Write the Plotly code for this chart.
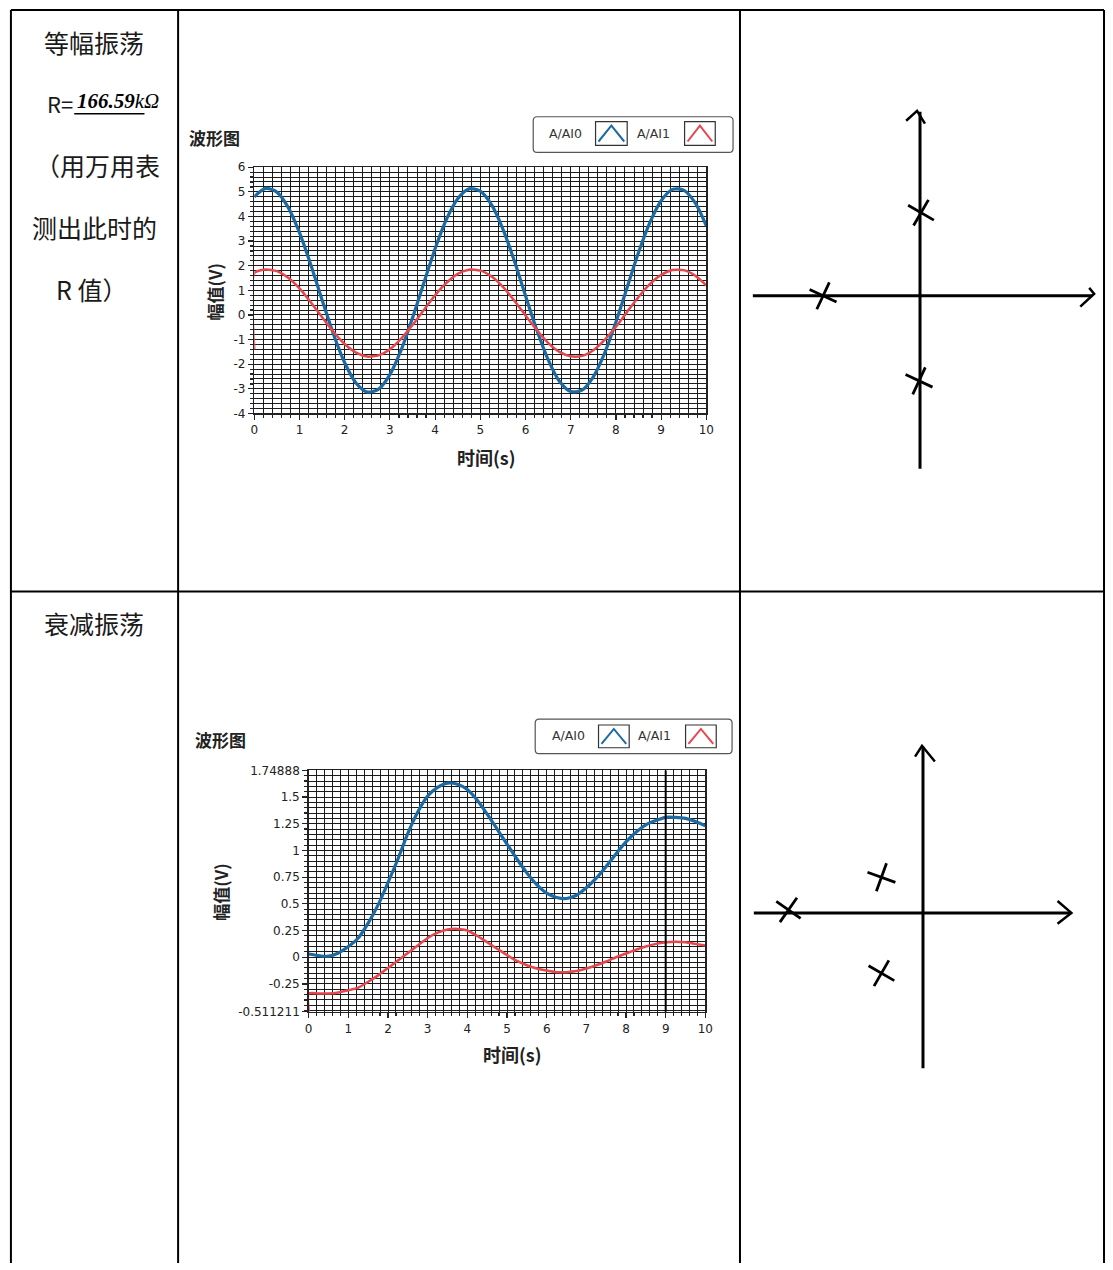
import plotly.graph_objects as go

# ---------------- data ----------------
time_s = [0, 0.25, 0.5, 0.75, 1, 1.25, 1.5, 1.75, 2, 2.25, 2.5, 2.75, 3, 3.25, 3.5, 3.75,
          4, 4.25, 4.5, 4.75, 5, 5.25, 5.5, 5.75, 6, 6.25, 6.5, 6.75, 7, 7.25, 7.5, 7.75,
          8, 8.25, 8.5, 8.75, 9, 9.25, 9.5, 9.75, 10]

# 等幅振荡 (sustained oscillation)
ai0_sustained = [4.80, 5.14, 4.99, 4.37, 3.34, 2.04, 0.61, -0.77, -1.94, -2.76, -3.13, -3.01,
                 -2.42, -1.42, -0.12, 1.30, 2.69, 3.88, 4.72, 5.12, 5.03, 4.47, 3.49, 2.21,
                 0.78, -0.61, -1.81, -2.69, -3.11, -3.05, -2.51, -1.55, -0.29, 1.13, 2.54,
                 3.75, 4.64, 5.10, 5.07, 4.56, 3.62]
ai1_sustained_time = [0] + time_s
ai1_sustained = [-1.40, 1.70, 1.85, 1.78, 1.51, 1.08, 0.52, -0.09, -0.68, -1.18, -1.53, -1.69,
                 -1.64, -1.39, -0.96, -0.41, 0.20, 0.80, 1.30, 1.67, 1.84, 1.80, 1.56, 1.14,
                 0.59, -0.02, -0.61, -1.13, -1.50, -1.68, -1.66, -1.43, -1.01, -0.48, 0.13,
                 0.73, 1.25, 1.63, 1.83, 1.82, 1.60, 1.20]

# 衰减振荡 (damped oscillation)
ai0_damped = [0.03, 0.015, 0.01, 0.04, 0.10, 0.18, 0.32, 0.49, 0.70, 0.92, 1.16, 1.36, 1.51,
              1.59, 1.63, 1.62, 1.57, 1.47, 1.34, 1.20, 1.06, 0.92, 0.79, 0.68, 0.60, 0.56,
              0.55, 0.58, 0.65, 0.74, 0.85, 0.97, 1.08, 1.17, 1.24, 1.28, 1.31, 1.31, 1.30,
              1.27, 1.23]
ai1_damped_time = [0] + time_s
ai1_damped = [-0.511, -0.34, -0.34, -0.34, -0.33, -0.31, -0.285, -0.23, -0.17, -0.10, -0.03,
              0.04, 0.11, 0.18, 0.23, 0.26, 0.265, 0.25, 0.20, 0.14, 0.08, 0.02, -0.035,
              -0.075, -0.105, -0.125, -0.14, -0.14, -0.13, -0.105, -0.075, -0.04, 0.0, 0.035,
              0.07, 0.10, 0.125, 0.14, 0.145, 0.14, 0.125, 0.11]
cursor_time = 9

x_tickvals = [0, 1, 2, 3, 4, 5, 6, 7, 8, 9, 10]
x_ticktext = ["0", "1", "2", "3", "4", "5", "6", "7", "8", "9", "10"]
y1_range = [-4, 6]
y1_tickvals = [-4, -3, -2, -1, 0, 1, 2, 3, 4, 5, 6]
y1_ticktext = ["-4", "-3", "-2", "-1", "0", "1", "2", "3", "4", "5", "6"]
y2_range = [-0.511211, 1.74888]
y2_tickvals = [-0.511211, -0.25, 0, 0.25, 0.5, 0.75, 1, 1.25, 1.5, 1.74888]
y2_ticktext = ["-0.511211", "-0.25", "0", "0.25", "0.5", "0.75", "1", "1.25", "1.5", "1.74888"]
x_range = [0, 10]

# hand-drawn pole plots (poles, in drawing units)
pz1_re = [-0.98, 0.01, -0.01]
pz1_im = [0.0, 0.84, -0.86]
pz2_re = [-1.36, -0.42, -0.42]
pz2_im = [0.03, 0.36, -0.61]
pz1_re_axis = [-1.69, 1.74]
pz1_im_axis = [-1.75, 1.86]
pz1_re_head_x = [1.71, 1.76, 1.62]
pz1_re_head_y = [0.08, 0.02, -0.11]
pz1_im_head_x = [-0.14, -0.03, 0.05]
pz1_im_head_y = [1.77, 1.87, 1.74]
pz2_re_axis = [-1.71, 1.49]
pz2_im_axis = [-1.57, 1.68]
pz2_re_head_x = [1.36, 1.50, 1.36]
pz2_re_head_y = [0.12, 0.0, -0.11]
pz2_im_head_x = [-0.08, -0.01, 0.12]
pz2_im_head_y = [1.58, 1.69, 1.53]

series_names = ["A/AI0", "A/AI1"]
BLUE = "#1d6aa3"
RED = "#e5474d"

W, H = 1113, 1270


def px(x):
    return x / W


def py(y):
    return 1 - y / H


fig = go.Figure()

fig.add_trace(go.Scatter(x=time_s, y=ai0_sustained, mode="lines", name=series_names[0],
                         line=dict(color=BLUE, width=3.2, shape="spline", smoothing=0.8),
                         xaxis="x", yaxis="y"))
fig.add_trace(go.Scatter(x=ai1_sustained_time, y=ai1_sustained, mode="lines", name=series_names[1],
                         line=dict(color=RED, width=2.5, shape="spline", smoothing=0.6),
                         xaxis="x", yaxis="y"))
fig.add_trace(go.Scatter(x=time_s, y=ai0_damped, mode="lines", name=series_names[0],
                         line=dict(color=BLUE, width=3.2, shape="spline", smoothing=0.8),
                         xaxis="x2", yaxis="y2"))
fig.add_trace(go.Scatter(x=ai1_damped_time, y=ai1_damped, mode="lines", name=series_names[1],
                         line=dict(color=RED, width=2.5, shape="spline", smoothing=0.6),
                         xaxis="x2", yaxis="y2"))

sk_line = dict(color="black", width=3)
for xa, ya, rea, ima, rhx, rhy, ihx, ihy, pre, pim, ang in [
    ("x3", "y3", pz1_re_axis, pz1_im_axis, pz1_re_head_x, pz1_re_head_y, pz1_im_head_x, pz1_im_head_y,
     pz1_re, pz1_im, [-20, -15, -20]),
    ("x4", "y4", pz2_re_axis, pz2_im_axis, pz2_re_head_x, pz2_re_head_y, pz2_im_head_x, pz2_im_head_y,
     pz2_re, pz2_im, [-10, -25, -15]),
]:
    fig.add_trace(go.Scatter(x=rea, y=[0, 0], mode="lines", line=sk_line, xaxis=xa, yaxis=ya))
    fig.add_trace(go.Scatter(x=[0, 0], y=ima, mode="lines", line=sk_line, xaxis=xa, yaxis=ya))
    fig.add_trace(go.Scatter(x=rhx, y=rhy, mode="lines", line=dict(color="black", width=2.5),
                             xaxis=xa, yaxis=ya))
    fig.add_trace(go.Scatter(x=ihx, y=ihy, mode="lines", line=dict(color="black", width=2.5),
                             xaxis=xa, yaxis=ya))
    fig.add_trace(go.Scatter(x=pre, y=pim, mode="markers", xaxis=xa, yaxis=ya,
                             marker=dict(symbol="x-thin", size=21, angle=ang,
                                         line=dict(color="black", width=2.8))))

tickfont = dict(family="DejaVu Sans", size=12, color="#222")
GRID = "#1a1a1a"


def wave_axis(domain, anchor, rng, tv, tt, minor_dtick):
    return dict(domain=domain, range=rng, anchor=anchor, tickmode="array", tickvals=tv, ticktext=tt,
                ticks="outside", ticklen=5, tickcolor="#222", tickwidth=1.2,
                showline=True, linecolor="#222", linewidth=1.5, mirror=True,
                showgrid=True, gridcolor=GRID, gridwidth=1, zeroline=False,
                tickfont=tickfont, fixedrange=True,
                minor=dict(tickmode="linear", tick0=0, dtick=minor_dtick, ticks="outside", ticklen=3,
                           tickcolor="#222", showgrid=True, gridcolor=GRID, gridwidth=1))


fig.update_layout(
    width=W, height=H, autosize=False,
    margin=dict(l=0, r=0, t=0, b=0),
    paper_bgcolor="white", plot_bgcolor="white",
    showlegend=False,
    xaxis=wave_axis([px(253), px(710)], "y", x_range, x_tickvals, x_ticktext, 0.2),
    yaxis=wave_axis([py(411), py(162)], "x", y1_range, y1_tickvals, y1_ticktext, 0.2),
    xaxis2=wave_axis([px(308), px(709)], "y2", x_range, x_tickvals, x_ticktext, 0.2),
    yaxis2=wave_axis([py(1016), py(772)], "x2", y2_range, y2_tickvals, y2_ticktext, 0.05),
    xaxis3=dict(domain=[px(745), px(1111)], range=[-1.81, 1.85], visible=False, anchor="y3",
                fixedrange=True),
    yaxis3=dict(domain=[py(590), py(4)], range=[-2.98, 2.88], visible=False, anchor="x3",
                fixedrange=True),
    xaxis4=dict(domain=[px(745), px(1111)], range=[-1.84, 1.82], visible=False, anchor="y4",
                fixedrange=True),
    yaxis4=dict(domain=[py(1270), py(592)], range=[-3.54, 3.24], visible=False, anchor="x4",
                fixedrange=True),
)

shapes = []
TL = dict(color="black", width=2)
shapes.append(dict(type="line", xref="paper", yref="paper", x0=px(7), x1=px(1112), y0=py(3), y1=py(3), line=TL))
shapes.append(dict(type="line", xref="paper", yref="paper", x0=px(7), x1=px(7), y0=py(3), y1=0, line=TL))
shapes.append(dict(type="line", xref="paper", yref="paper", x0=px(1112), x1=px(1112), y0=py(3), y1=0, line=TL))
shapes.append(dict(type="line", xref="paper", yref="paper", x0=px(176), x1=px(176), y0=py(3), y1=0, line=TL))
shapes.append(dict(type="line", xref="paper", yref="paper", x0=px(744), x1=px(744), y0=py(3), y1=0, line=TL))
shapes.append(dict(type="line", xref="paper", yref="paper", x0=px(7), x1=px(1112), y0=py(591), y1=py(591), line=TL))

shapes.append(dict(type="line", xref="paper", yref="paper", x0=px(71), x1=px(142), y0=py(108), y1=py(108),
                   line=dict(color="black", width=1.5)))

shapes.append(dict(type="line", xref="x2", yref="y2 domain", x0=cursor_time, x1=cursor_time, y0=0, y1=1,
                   line=dict(color="black", width=2)))


def rrect(x0, y0, x1, y1, r):
    X = lambda v: f"{px(v):.5f}"
    Y = lambda v: f"{py(v):.5f}"
    return (f"M {X(x0 + r)},{Y(y0)} L {X(x1 - r)},{Y(y0)} Q {X(x1)},{Y(y0)} {X(x1)},{Y(y0 + r)} "
            f"L {X(x1)},{Y(y1 - r)} Q {X(x1)},{Y(y1)} {X(x1 - r)},{Y(y1)} L {X(x0 + r)},{Y(y1)} "
            f"Q {X(x0)},{Y(y1)} {X(x0)},{Y(y1 - r)} L {X(x0)},{Y(y0 + r)} Q {X(x0)},{Y(y0)} {X(x0 + r)},{Y(y0)} Z")


def caret(x0, y0, x1, y1):
    xm = (x0 + x1) / 2
    return (f"M {px(x0 + 3):.5f},{py(y1 - 4):.5f} L {px(xm):.5f},{py(y0 + 4):.5f} "
            f"L {px(x1 - 3):.5f},{py(y1 - 4):.5f}")


annotations = []
for (bx0, by0, bx1, by1, t0, i0, t1, i1) in [
    (535, 111, 737, 147, 568, (598, 116, 630, 140), 657, (688, 116, 719, 140)),
    (537, 720, 736, 755, 571, (601, 726, 632, 749), 658, (689, 726, 720, 749)),
]:
    shapes.append(dict(type="path", xref="paper", yref="paper", path=rrect(bx0, by0, bx1, by1, 4),
                       line=dict(color="#555", width=1.2), fillcolor="white"))
    for (ix0, iy0, ix1, iy1), col in [(i0, BLUE), (i1, RED)]:
        shapes.append(dict(type="rect", xref="paper", yref="paper", x0=px(ix0), x1=px(ix1),
                           y0=py(iy1), y1=py(iy0), line=dict(color="#333", width=1.2), fillcolor="white"))
        shapes.append(dict(type="path", xref="paper", yref="paper", path=caret(ix0, iy0, ix1, iy1),
                           line=dict(color=col, width=2)))
    cy = (by0 + by1) / 2
    for tx, name in [(t0, series_names[0]), (t1, series_names[1])]:
        annotations.append(dict(xref="paper", yref="paper", x=px(tx), y=py(cy - 1), text=name,
                                showarrow=False, xanchor="center", yanchor="middle",
                                font=dict(family="DejaVu Sans", size=12.5, color="#333")))

cjk = "Noto Sans CJK SC"
for tx, ty, txt, ang, sz in [
    (213, 132, "<b>波形图</b>", 0, 17),
    (219, 741, "<b>波形图</b>", 0, 17),
    (213, 288, "<b>幅值(V)</b>", -90, 17),
    (218, 895, "<b>幅值(V)</b>", -90, 17),
    (488, 455, "<b>时间(s)</b>", 0, 18),
    (514, 1059, "<b>时间(s)</b>", 0, 18),
]:
    annotations.append(dict(xref="paper", yref="paper", x=px(tx), y=py(ty), text=txt, textangle=ang,
                            showarrow=False, xanchor="center", yanchor="middle",
                            font=dict(family=cjk, size=sz, color="#222")))

for tx, ty, txt in [
    (91, 35, "等幅振荡"),
    (95, 160, "（用万用表"),
    (91, 222, "测出此时的"),
    (88, 285, "R 值）"),
    (91, 623, "衰减振荡"),
]:
    annotations.append(dict(xref="paper", yref="paper", x=px(tx), y=py(ty), text=txt,
                            showarrow=False, xanchor="center", yanchor="middle",
                            font=dict(family=cjk, size=25, color="#1a1a1a")))
annotations.append(dict(xref="paper", yref="paper", x=px(72), y=py(97), text="R=",
                        showarrow=False, xanchor="right", yanchor="middle",
                        font=dict(family=cjk, size=22, color="#1a1a1a")))
annotations.append(dict(xref="paper", yref="paper", x=px(72), y=py(95), text="<i><b>166.59</b>kΩ</i>",
                        showarrow=False, xanchor="left", yanchor="middle",
                        font=dict(family="Liberation Serif", size=21, color="black")))

fig.update_layout(shapes=shapes, annotations=annotations)

fig.write_html("out.html", config={"displayModeBar": False, "staticPlot": True},
               post_script="document.body.style.margin='0';")
